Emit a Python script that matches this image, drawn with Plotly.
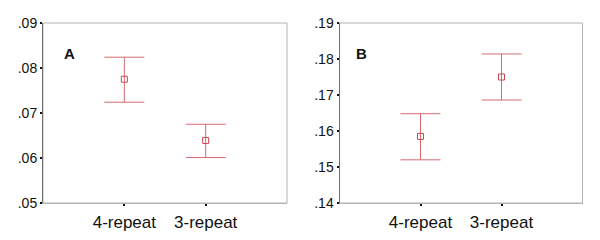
import plotly.graph_objects as go

categories = ["4-repeat", "3-repeat"]
cat_pos = [1, 2]

a_mean = [0.0775, 0.0639]
a_upper = [0.0824, 0.0675]
a_lower = [0.0724, 0.0601]

b_mean = [0.1585, 0.1750]
b_upper = [0.1648, 0.1814]
b_lower = [0.1520, 0.1686]

a_ticks = [0.05, 0.06, 0.07, 0.08, 0.09]
a_ticktext = [".05", ".06", ".07", ".08", ".09"]
b_ticks = [0.14, 0.15, 0.16, 0.17, 0.18, 0.19]
b_ticktext = [".14", ".15", ".16", ".17", ".18", ".19"]

bar_color = "#d46a72"
marker_color = "#c84850"

W, H, OFF = 600, 240, 8  # page body margin offset


def xp(px):
    return (px - OFF) / W


def yp(py):
    return 1 - (py - OFF) / H


fig = go.Figure()


def add_panel(mean, upper, lower, xa, ya):
    fig.add_trace(go.Scatter(
        x=cat_pos, y=mean, mode="markers",
        marker=dict(symbol="square-open", size=6, color=marker_color, line=dict(width=1)),
        error_y=dict(type="data", symmetric=False,
                     array=[u - m for u, m in zip(upper, mean)],
                     arrayminus=[m - l for m, l in zip(mean, lower)],
                     color=bar_color, thickness=1, width=20),
        xaxis=xa, yaxis=ya, showlegend=False))


add_panel(a_mean, a_upper, a_lower, "x", "y")
add_panel(b_mean, b_upper, b_lower, "x2", "y2")

font = dict(family="Liberation Sans, Arial, sans-serif", size=14, color="#111")
y0, y1 = yp(203), yp(23)
xdomA = [xp(43), xp(287)]
xdomB = [xp(339.5), xp(582.5)]

xcommon = dict(range=[0, 3], tickvals=cat_pos, ticktext=categories, showline=True,
               linecolor="#b4b4b4", linewidth=1, ticks="outside", ticklen=2, tickwidth=2,
               tickcolor="#111", showgrid=False, zeroline=False, tickfont=dict(size=17),
               automargin=False, ticklabelstandoff=2)
ycommon = dict(showline=True, linecolor="#707070", linewidth=1, ticks="outside", ticklen=2,
               tickwidth=2, tickcolor="#111", showgrid=False, zeroline=False,
               tickfont=dict(size=14), automargin=False)

fig.update_layout(
    width=W, height=H, margin=dict(l=0, r=0, t=0, b=0),
    paper_bgcolor="white", plot_bgcolor="white", font=font,
    xaxis=dict(domain=xdomA, anchor="y", **xcommon),
    yaxis=dict(domain=[y0, y1], anchor="x", range=[0.05, 0.09], tickvals=a_ticks,
               ticktext=a_ticktext, **ycommon),
    xaxis2=dict(domain=xdomB, anchor="y2", **xcommon),
    yaxis2=dict(domain=[y0, y1], anchor="x2", range=[0.14, 0.19], tickvals=b_ticks,
                ticktext=b_ticktext, **ycommon),
)

for dom in (xdomA, xdomB):
    fig.add_shape(type="rect", xref="paper", yref="paper", x0=dom[0], x1=dom[1], y0=y0, y1=y1,
                  line=dict(color="#b4b4b4", width=1), layer="below")

fig.add_annotation(text="<b>A</b>", x=xp(62), y=yp(43), xref="paper", yref="paper",
                   showarrow=False, font=dict(size=15, color="#111"))
fig.add_annotation(text="<b>B</b>", x=xp(361), y=yp(43), xref="paper", yref="paper",
                   showarrow=False, font=dict(size=15, color="#111"))

fig.write_html("out.html")
